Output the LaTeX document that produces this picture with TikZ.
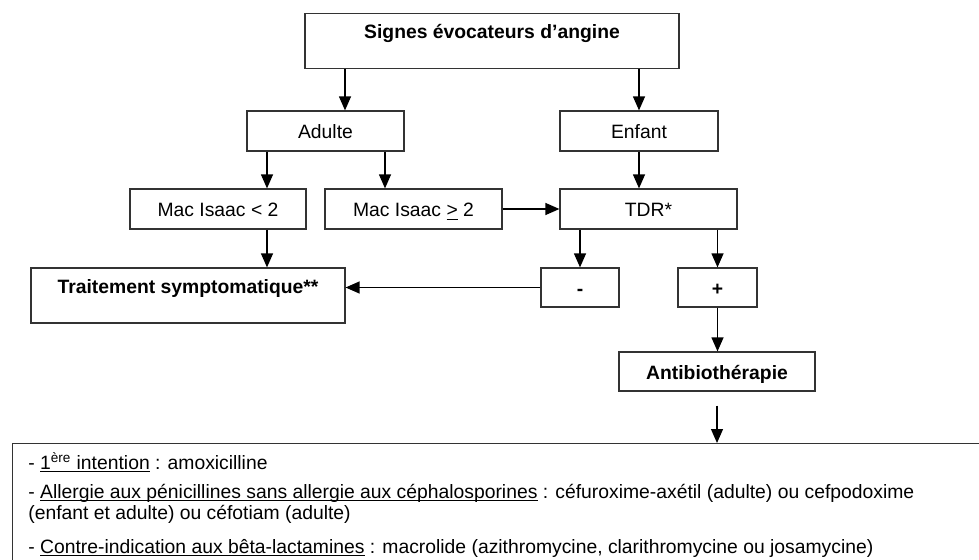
\documentclass[tikz,border=0pt]{standalone}
\usepackage{fontspec}
\setmainfont{Liberation Sans}
\usepackage{tikz}
\usetikzlibrary{calc,positioning,arrows.meta,shapes}
\newcommand{\souligne}[1]{\underline{\smash{#1}}}
\tikzset{
>={Triangle[length=2.8mm,width=2.4mm]},
}

\begin{document}
\begin{tikzpicture}[x=0.02cm,y=-0.02cm]
    \tikzset{
        every node/.style={font=\fontsize{11}{12}\selectfont},
        action/.style={rectangle,draw=black!80,line width=0.7pt, inner sep=0pt, minimum height=0.8cm, text height=9pt, text depth=0pt, text centered},
        bigaction/.style={action, text height=0.5cm, text depth=0.61cm, font=\fontsize{11}{12}\selectfont\bfseries},
        listline/.style={anchor=base west, inner sep=0pt},
        myarrow/.style={draw, line width=0.7pt, ->},
    }
    \clip (0,0) rectangle (979,560);

    \node[bigaction, minimum width=7.48cm] (itemSignes) at (492,41) {Signes évocateurs d’angine};

    \node[action, minimum width=3.14cm] (itemAdulte) at (325.5,131) {Adulte};
    \node[action, minimum width=3.16cm] (itemEnfant) at (639,131) {Enfant};

    \node[action, minimum width=3.52cm] (itemMacA) at (218,209) {Mac Isaac < 2};
    \node[action, minimum width=3.54cm] (itemMacB) at (413.5,209) {Mac Isaac \souligne{>} 2};
    \node[action, minimum width=3.54cm] (itemTdr) at (648.5,209) {TDR*};

    \node[bigaction, minimum width=6.28cm, text depth=0.6cm] (itemTrait) at (188,295.5) {Traitement symptomatique**};
    \node[action, minimum width=1.56cm, minimum height=0.78cm, font=\fontsize{11}{12}\selectfont\bfseries] (itemMoins) at (580,287.5) {-};
    \node[action, minimum width=1.58cm, minimum height=0.78cm, font=\fontsize{11}{12}\selectfont\bfseries] (itemPlus) at (717.5,287.5) {+};

    \node[action, minimum width=3.92cm, minimum height=0.78cm, font=\fontsize{11}{12}\selectfont\bfseries] (itemAntib) at (717,371.5) {Antibiothérapie};

    % cadre du bas, coupe par le bord
    \node[draw=black!80, line width=0.7pt, anchor=north west, minimum width=20cm, minimum height=3cm, inner sep=0pt] (itemOrdo) at (12,443) {};
    \node[listline] (line1) at (28,469) {- \souligne{1\textsuperscript{ère} intention} : amoxicilline};
    \node[listline] (line2) at (28,498) {- \souligne{Allergie aux pénicillines sans allergie aux céphalosporines} : céfuroxime-axétil (adulte) ou cefpodoxime};
    \node[listline] (line3) at (28,519) {(enfant et adulte) ou céfotiam (adulte)};
    \node[listline] (line4) at (28,553) {- \souligne{Contre-indication aux bêta-lactamines} : macrolide (azithromycine, clarithromycine ou josamycine)};

    \coordinate (colA) at (345,0);
    \coordinate (colB) at (267,0);
    \coordinate (colC) at (385,0);

    \path[myarrow] (colA |- itemSignes.south) -- (colA |- itemAdulte.north);
    \path[myarrow] (itemSignes.south -| itemEnfant) -- (itemEnfant.north);
    \path[myarrow] (colB |- itemAdulte.south) -- (colB |- itemMacA.north);
    \path[myarrow] (colC |- itemAdulte.south) -- (colC |- itemMacB.north);
    \path[myarrow] (itemEnfant.south) -- (itemEnfant.south |- itemTdr.north);
    \path[myarrow] (itemMacB.east) -- (itemTdr.west);
    \path[myarrow] (colB |- itemMacA.south) -- (colB |- itemTrait.north);
    \path[myarrow] (itemTdr.south -| itemMoins) -- (itemMoins.north);
    \path[myarrow] (itemTdr.south -| itemPlus) -- (itemPlus.north);
    \path[myarrow] (itemMoins.west) -- (itemMoins.west -| itemTrait.east);
    \path[myarrow] (itemPlus.south) -- (itemPlus.south |- itemAntib.north);
    \path[myarrow, shorten <=0.28cm] (itemAntib.south) -- (itemAntib.south |- itemOrdo.north);

\end{tikzpicture}
\end{document}
